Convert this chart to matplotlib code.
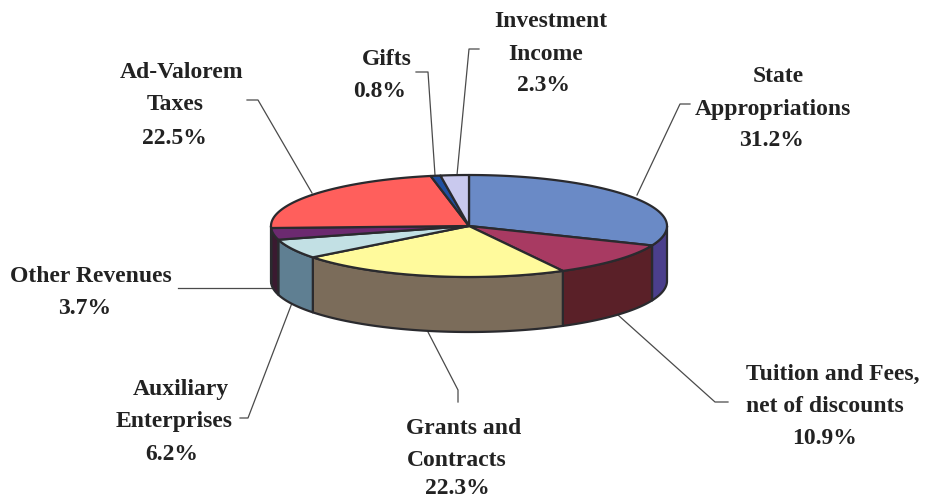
import numpy as np
import matplotlib
matplotlib.use("Agg")
import matplotlib.pyplot as plt

categories = ["State Appropriations", "Tuition and Fees, net of discounts", "Grants and Contracts",
              "Auxiliary Enterprises", "Other Revenues", "Ad-Valorem Taxes", "Gifts", "Investment Income"]
shares = [31.2, 10.9, 22.3, 6.2, 3.7, 22.5, 0.8, 2.3]
top_colors = ["#6A8AC6", "#A83A62", "#FFFA9C", "#C2E0E4", "#6C2A70", "#FF5F5C", "#1F4FA0", "#C9C9EE"]
wall_colors = ["#4B3F8C", "#5A2028", "#7B6C5A", "#5F7F92", "#3A1A30", "#7F2F2E", "#10285A", "#64647A"]
label_text = [["State", "Appropriations", "31.2%"],
              ["Tuition and Fees,", "net of discounts", "10.9%"],
              ["Grants and", "Contracts", "22.3%"],
              ["Auxiliary", "Enterprises", "6.2%"],
              ["Other Revenues", "3.7%"],
              ["Ad-Valorem", "Taxes", "22.5%"],
              ["Gifts", "0.8%"],
              ["Investment", "Income", "2.3%"]]
label_pos = [[(778, 76), (773, 109), (771, 141)],
             [(833, 374), (825, 407), (825, 438)],
             [(464, 428), (457, 460), (457, 489)],
             [(181, 390), (174, 422), (172, 454)],
             [(91, 276), (85, 309)],
             [(182, 72), (175, 104), (174, 138)],
             [(387, 59), (380, 91)],
             [(551, 21), (546, 54), (544, 85)]]
leaders = [[(690, 104), (680, 104), (637, 195)],
           [(728, 402), (715, 402), (618, 315)],
           [(458, 402), (458, 390), (428, 332)],
           [(240, 418), (248, 418), (292, 303)],
           [(178, 288), (272, 288)],
           [(247, 100), (258, 100), (312, 193)],
           [(416, 72), (428, 72), (435, 175)],
           [(479, 49), (469, 49), (457, 175)]]

CX, CY, RX, RY, DEPTH = 469, 226, 198, 51, 55
INK = "#2A2A2E"

fig = plt.figure(figsize=(9.25, 5.01), dpi=100)
ax = fig.add_axes([0, 0, 1, 1])
ax.set_xlim(0, 925)
ax.set_ylim(501, 0)
ax.axis("off")

def pt(theta, dz=0):
    return CX + RX * np.sin(theta), CY - RY * np.cos(theta) + dz

edges = np.deg2rad(np.cumsum([0] + shares) / sum(shares) * 360)

# side walls: only the front half (90..270 deg clockwise from the top) is visible
for a, b, c in zip(edges[:-1], edges[1:], wall_colors):
    lo, hi = max(a, np.pi / 2), min(b, 3 * np.pi / 2)
    if lo >= hi:
        continue
    t = np.linspace(lo, hi, 80)
    x, y = pt(t)
    xb, yb = pt(t[::-1], DEPTH)
    ax.fill(np.r_[x, xb], np.r_[y, yb], facecolor=c, edgecolor=INK, lw=1.6, joinstyle="round", zorder=2)

# top face
for a, b, c in zip(edges[:-1], edges[1:], top_colors):
    t = np.linspace(a, b, 120)
    x, y = pt(t)
    ax.fill(np.r_[CX, x], np.r_[CY, y], facecolor=c, edgecolor=INK, lw=1.6, joinstyle="round", zorder=3)

for path in leaders:
    xs, ys = zip(*path)
    ax.plot(xs, ys, color="#4A4A4A", lw=0.9, zorder=1)

for lines, positions in zip(label_text, label_pos):
    for s, (x, y) in zip(lines, positions):
        ax.text(x, y, s, ha="center", va="center", family="Liberation Serif",
                fontweight="bold", fontsize=17, color="#222222")

fig.savefig("out.png", dpi=100)
